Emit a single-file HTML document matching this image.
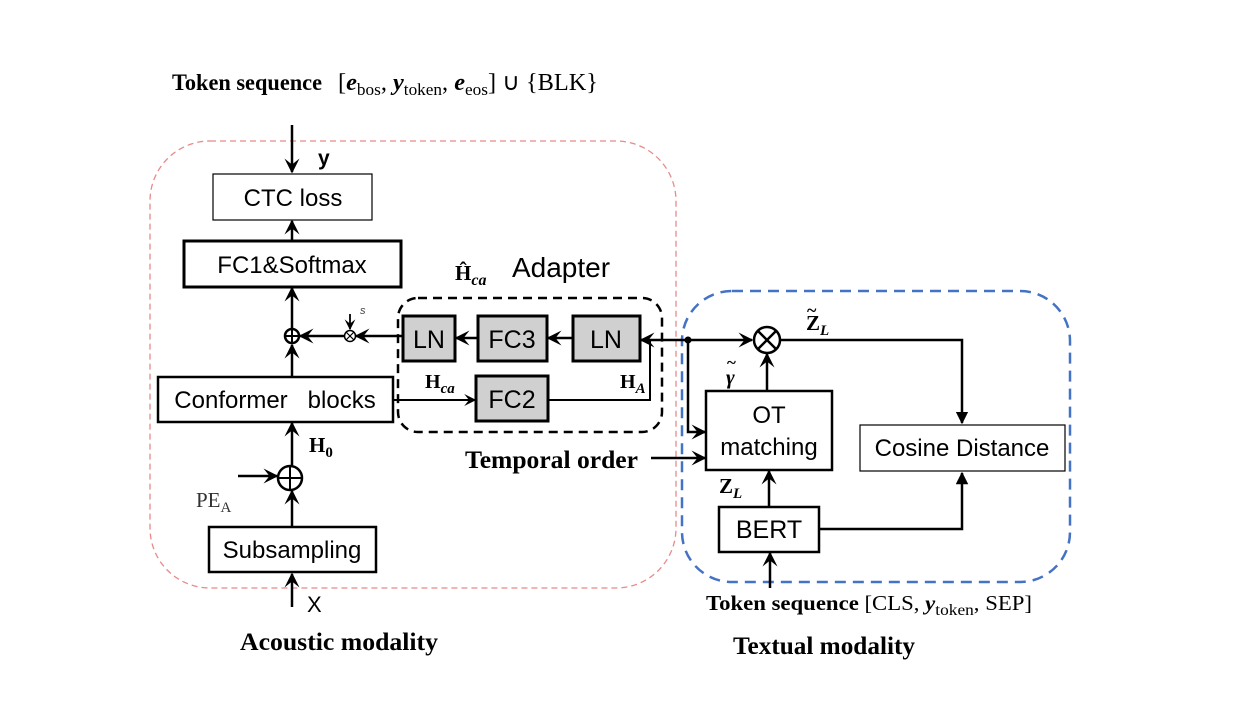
<!DOCTYPE html>
<html><head><meta charset="utf-8"><style>
body{margin:0;background:#fff;width:1250px;height:710px;overflow:hidden}
svg text{font-family:"Liberation Sans","DejaVu Sans",sans-serif}
.s{font-family:"Liberation Serif",serif;font-weight:bold}
.r{font-family:"Liberation Serif",serif}
</style></head><body>
<svg width="1250" height="710" viewBox="0 0 1250 710" xmlns="http://www.w3.org/2000/svg">
<defs>
<marker id="a" viewBox="0 0 10 10" refX="9" refY="5" markerWidth="6" markerHeight="6" orient="auto-start-reverse"><path d="M0,0 L10,5 L0,10 L4,5 z" fill="#000"/></marker>
<marker id="b" viewBox="0 0 10 10" refX="9" refY="5" markerWidth="5" markerHeight="5" orient="auto"><path d="M0,0 L10,5 L0,10 z" fill="#000"/></marker>
</defs>
<!-- title -->
<text x="172" y="90" class="s" font-size="23" textLength="150" lengthAdjust="spacingAndGlyphs">Token sequence</text>
<text x="338" y="90" class="r" font-size="24" textLength="260" lengthAdjust="spacingAndGlyphs">[<tspan font-style="italic" font-weight="bold">e</tspan><tspan font-size="17" dy="5">bos</tspan><tspan dy="-5">, </tspan><tspan font-style="italic" font-weight="bold">y</tspan><tspan font-size="17" dy="5">token</tspan><tspan dy="-5">, </tspan><tspan font-style="italic" font-weight="bold">e</tspan><tspan font-size="17" dy="5">eos</tspan><tspan dy="-5">] ∪ {BLK}</tspan></text>
<!-- pink region -->
<rect x="150" y="141" width="526" height="447" rx="60" fill="none" stroke="#e88a8a" stroke-width="1.3" stroke-dasharray="6,4"/>
<!-- blue region -->
<rect x="682" y="291" width="388" height="291" rx="50" fill="none" stroke="#4472c4" stroke-width="2.5" stroke-dasharray="11,7"/>
<!-- adapter region -->
<rect x="398" y="298" width="264" height="134" rx="20" fill="none" stroke="#000" stroke-width="2.5" stroke-dasharray="9,6"/>
<g stroke="#000" stroke-width="2.5" fill="none">
<line x1="292" y1="125" x2="292" y2="172" marker-end="url(#a)"/>
<line x1="292" y1="240" x2="292" y2="221" marker-end="url(#a)"/>
<line x1="292" y1="328" x2="292" y2="288" marker-end="url(#a)"/>
<line x1="292" y1="376" x2="292" y2="345" marker-end="url(#a)"/>
<line x1="344" y1="336" x2="300" y2="336" marker-end="url(#a)"/>
<line x1="402" y1="336" x2="356" y2="336" marker-end="url(#a)"/>
<line x1="478" y1="338" x2="456" y2="338" marker-end="url(#a)"/>
<line x1="572" y1="338" x2="548" y2="338" marker-end="url(#a)"/>
<line x1="688" y1="340" x2="641" y2="340" marker-end="url(#a)"/>
<line x1="393" y1="400" x2="475" y2="400" stroke-width="2" marker-end="url(#a)"/>
<polyline points="548,400 650,400 650,340" stroke-width="2"/>
<line x1="292" y1="465" x2="292" y2="423" marker-end="url(#a)"/>
<line x1="292" y1="527" x2="292" y2="491" marker-end="url(#a)"/>
<line x1="238" y1="476" x2="277" y2="476" marker-end="url(#a)"/>
<line x1="292" y1="607" x2="292" y2="574" marker-end="url(#a)"/>
<line x1="688" y1="340" x2="752" y2="340" marker-end="url(#a)"/>
<polyline points="688,340 688,432 705,432" marker-end="url(#a)"/>
<line x1="651" y1="458" x2="705" y2="458" marker-end="url(#a)"/>
<line x1="767" y1="391" x2="767" y2="354" marker-end="url(#a)"/>
<polyline points="780,340 962,340 962,423" marker-end="url(#b)"/>
<polyline points="819,529 962,529 962,473" marker-end="url(#b)"/>
<line x1="769" y1="507" x2="769" y2="471" marker-end="url(#a)"/>
<line x1="770" y1="588" x2="770" y2="553" marker-end="url(#a)"/>
<line x1="350" y1="314" x2="350" y2="329" stroke-width="1.8" marker-end="url(#a)"/>
</g>
<circle cx="688" cy="340" r="3.5" fill="#000"/>
<!-- sums -->
<g stroke="#000" fill="#fff">
<circle cx="292" cy="336" r="7" stroke-width="2.5"/>
<line x1="285" y1="336" x2="299" y2="336" stroke-width="2"/><line x1="292" y1="329" x2="292" y2="343" stroke-width="2"/>
<circle cx="350" cy="336" r="5.5" stroke-width="1.5"/>
<line x1="346" y1="332" x2="354" y2="340" stroke-width="1.2"/><line x1="354" y1="332" x2="346" y2="340" stroke-width="1.2"/>
<circle cx="290" cy="478" r="12" stroke-width="2.5"/>
<line x1="278" y1="478" x2="302" y2="478" stroke-width="2"/><line x1="290" y1="466" x2="290" y2="490" stroke-width="2"/>
<circle cx="767" cy="340" r="13" stroke-width="2.5"/>
<line x1="758" y1="331" x2="776" y2="349" stroke-width="2.5"/><line x1="776" y1="331" x2="758" y2="349" stroke-width="2.5"/>
</g>
<!-- boxes -->
<g stroke="#000" fill="#fff">
<rect x="213" y="174" width="159" height="46" stroke-width="1.2"/>
<rect x="184" y="241" width="217" height="46" stroke-width="3"/>
<rect x="158" y="377" width="235" height="45" stroke-width="2.5"/>
<rect x="209" y="527" width="167" height="45" stroke-width="2.5"/>
<rect x="403" y="316" width="52" height="45" stroke-width="3" fill="#d0d0d0"/>
<rect x="478" y="316" width="69" height="45" stroke-width="3" fill="#d0d0d0"/>
<rect x="573" y="316" width="67" height="45" stroke-width="3" fill="#d0d0d0"/>
<rect x="476" y="376" width="72" height="45" stroke-width="3" fill="#d0d0d0"/>
<rect x="706" y="391" width="126" height="79" stroke-width="2.5"/>
<rect x="860" y="425" width="205" height="46" stroke-width="1.2"/>
<rect x="719" y="507" width="100" height="45" stroke-width="2.5"/>
</g>
<g font-size="24" text-anchor="middle" fill="#000">
<text x="293" y="206">CTC loss</text>
<text x="292" y="273">FC1&amp;Softmax</text>
<text x="275" y="408" xml:space="preserve">Conformer   blocks</text>
<text x="292" y="558">Subsampling</text>
<text x="429" y="348" font-size="25">LN</text>
<text x="512" y="348" font-size="25">FC3</text>
<text x="606" y="348" font-size="25">LN</text>
<text x="512" y="408" font-size="25">FC2</text>
<text x="769" y="423">OT</text>
<text x="769" y="455">matching</text>
<text x="962" y="456">Cosine Distance</text>
<text x="769" y="538" font-size="25">BERT</text>
<text x="561" y="277" font-size="28">Adapter</text>
</g>
<text x="318" y="165" font-size="21" font-weight="bold">y</text>
<text x="307" y="612" font-size="22">X</text>
<text x="360" y="314" font-size="11" font-style="italic" fill="#444">s</text>
<text x="455" y="280" class="s" font-size="21">Ĥ<tspan font-style="italic" font-size="16" dy="5">ca</tspan></text>
<text x="425" y="388" class="s" font-size="20">H<tspan font-style="italic" font-size="15" dy="5">ca</tspan></text>
<text x="620" y="388" class="s" font-size="20">H<tspan font-style="italic" font-size="15" dy="5">A</tspan></text>
<text x="309" y="452" class="s" font-size="21">H<tspan font-size="15" dy="5">0</tspan></text>
<text x="196" y="507" class="r" font-size="21" fill="#333">PE<tspan font-size="15" dy="5">A</tspan></text>
<text x="465" y="468" class="s" font-size="25" textLength="173" lengthAdjust="spacingAndGlyphs">Temporal order</text>
<text x="806" y="330" class="s" font-size="21">Z<tspan font-style="italic" font-size="15" dy="5">L</tspan></text>
<text x="807" y="316" class="s" font-size="18">~</text>
<text x="726" y="384" class="s" font-size="21" font-style="italic">γ</text>
<text x="727" y="368" class="s" font-size="17">~</text>
<text x="719" y="493" class="s" font-size="21">Z<tspan font-style="italic" font-size="15" dy="5">L</tspan></text>
<text x="706" y="610" class="s" font-size="21" textLength="326" lengthAdjust="spacingAndGlyphs">Token sequence <tspan font-weight="normal">[CLS, </tspan><tspan font-style="italic">y</tspan><tspan font-weight="normal" font-size="16" dy="5">token</tspan><tspan font-weight="normal" dy="-5">, SEP]</tspan></text>
<text x="240" y="650" class="s" font-size="25" textLength="198" lengthAdjust="spacingAndGlyphs">Acoustic modality</text>
<text x="733" y="654" class="s" font-size="25" textLength="182" lengthAdjust="spacingAndGlyphs">Textual modality</text>
</svg>
</body></html>
